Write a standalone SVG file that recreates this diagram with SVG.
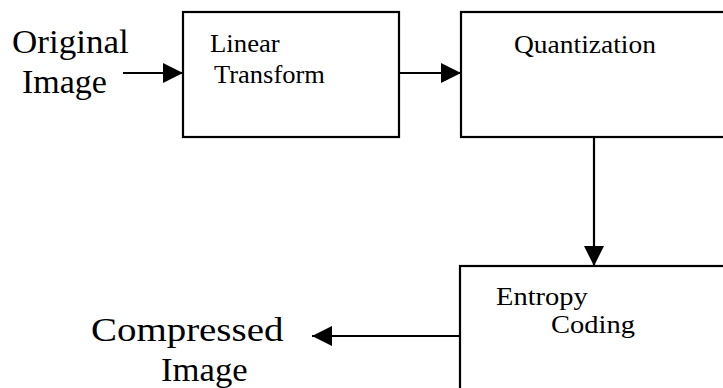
<svg xmlns="http://www.w3.org/2000/svg" width="723" height="388" viewBox="0 0 723 388">
  <defs>
    <marker id="arrow" markerUnits="userSpaceOnUse" markerWidth="21" markerHeight="21" refX="20" refY="10" orient="auto" viewBox="0 0 21 21">
      <path d="M0,0 L20,10 L0,20 Z" fill="#000"/>
    </marker>
  </defs>
  <rect width="723" height="388" fill="#fff"/>

  <!-- connectors -->
  <g id="connectors" fill="none" stroke="#000" stroke-width="2.2">
    <line x1="123" y1="73" x2="183" y2="73" marker-end="url(#arrow)"/>
    <line x1="399" y1="73" x2="461" y2="73" marker-end="url(#arrow)"/>
    <line x1="594" y1="137" x2="594" y2="266" marker-end="url(#arrow)"/>
    <line x1="460" y1="336" x2="312" y2="336" marker-end="url(#arrow)"/>
  </g>

  <!-- input label -->
  <g id="original-image" font-family="Liberation Serif" font-size="34">
    <text transform="translate(12,53) scale(1.03,1)">Original</text>
    <text transform="translate(22,93)">Image</text>
  </g>

  <g id="linear-transform" font-family="Liberation Serif" font-size="25">
    <rect x="183" y="12" width="216" height="125" fill="#fff" stroke="#000" stroke-width="2.2"/>
    <text transform="translate(210,52) scale(1.07,1)">Linear</text>
    <text transform="translate(214,83) scale(1.06,1)">Transform</text>
  </g>

  <g id="quantization" font-family="Liberation Serif" font-size="25">
    <rect x="461" y="12" width="300" height="125" fill="#fff" stroke="#000" stroke-width="2.2"/>
    <text transform="translate(514,53) scale(1.1,1)">Quantization</text>
  </g>

  <g id="entropy-coding" font-family="Liberation Serif" font-size="25">
    <rect x="460" y="266" width="300" height="200" fill="#fff" stroke="#000" stroke-width="2.2"/>
    <text transform="translate(496,305) scale(1.14,1)">Entropy</text>
    <text transform="translate(551,333) scale(1.14,1)">Coding</text>
  </g>

  <!-- output label -->
  <g id="compressed-image" font-family="Liberation Serif" font-size="34">
    <text transform="translate(91,341) scale(1.145,1)">Compressed</text>
    <text transform="translate(161,381) scale(1.02,1)">Image</text>
  </g>
</svg>
